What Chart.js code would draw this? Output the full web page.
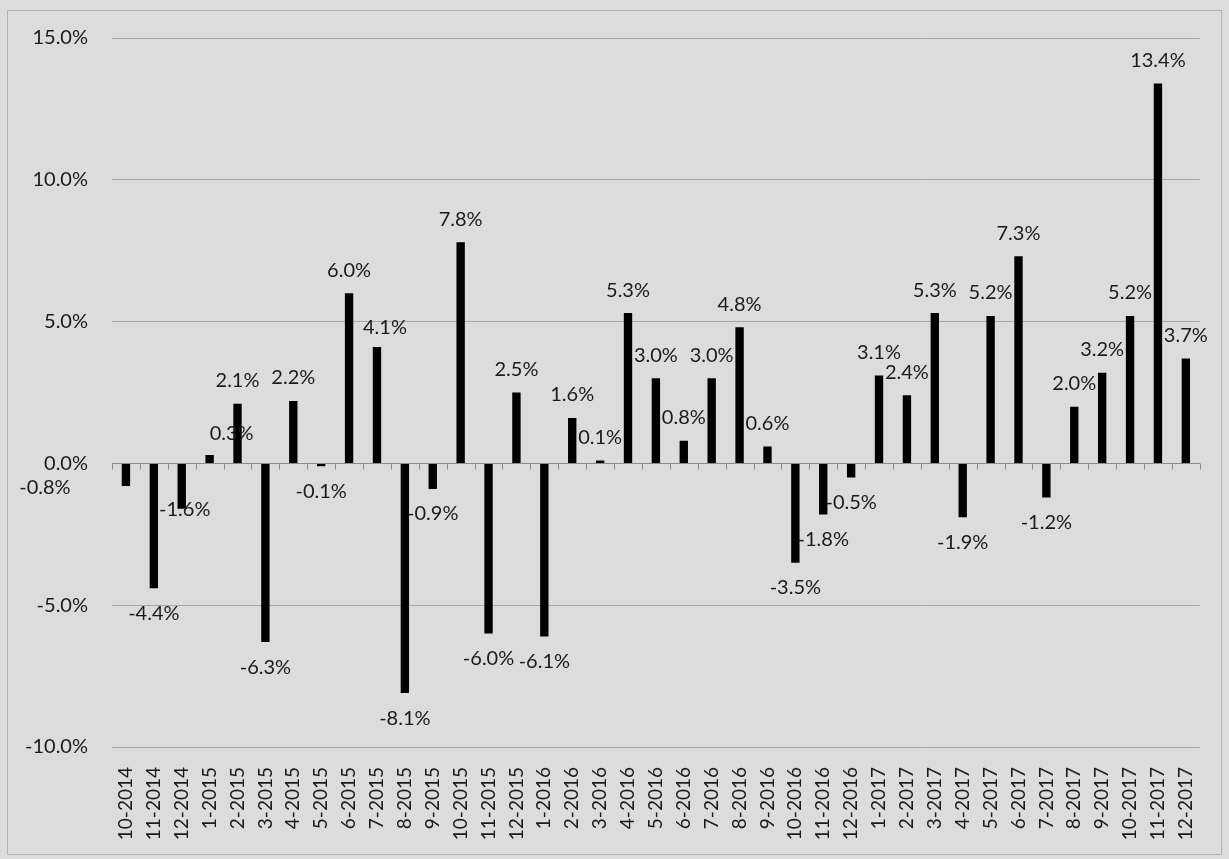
<!DOCTYPE html>
<html>
<head>
<meta charset="utf-8">
<script src="https://cdn.jsdelivr.net/npm/chart.js@4/dist/chart.umd.min.js"></script>
<style>
  html, body { margin: 0; padding: 0; background: #dcdcdc; }
  #wrap { position: relative; width: 1229px; height: 859px; }
</style>
</head>
<body>
<div id="wrap"><canvas id="myChart" width="1229" height="859"></canvas></div>
<script>
var months = ['10-2014', '11-2014', '12-2014',
    '1-2015', '2-2015', '3-2015', '4-2015', '5-2015', '6-2015', '7-2015', '8-2015', '9-2015', '10-2015', '11-2015', '12-2015',
    '1-2016', '2-2016', '3-2016', '4-2016', '5-2016', '6-2016', '7-2016', '8-2016', '9-2016', '10-2016', '11-2016', '12-2016',
    '1-2017', '2-2017', '3-2017', '4-2017', '5-2017', '6-2017', '7-2017', '8-2017', '9-2017', '10-2017', '11-2017', '12-2017'];

// monthly return, percent
var returns = [-0.8, -4.4, -1.6,
    0.3, 2.1, -6.3, 2.2, -0.1, 6.0, 4.1, -8.1, -0.9, 7.8, -6.0, 2.5,
    -6.1, 1.6, 0.1, 5.3, 3.0, 0.8, 3.0, 4.8, 0.6, -3.5, -1.8, -0.5,
    3.1, 2.4, 5.3, -1.9, 5.2, 7.3, -1.2, 2.0, 3.2, 5.2, 13.4, 3.7];

var yTicks = [-10, -5, 0, 5, 10, 15];

// a few labels were nudged by hand so they don't sit on neighbouring bars
var labelNudge = { 0: [-81, -24], 2: [3, -24], 3: [22, 2], 9: [8, 3] };

var FONT = 'Lato, "Liberation Sans", sans-serif';

var frame = {
    id: 'frame',
    beforeDraw: function (chart) {
        var ctx = chart.ctx;
        ctx.save();
        ctx.fillStyle = '#dcdcdc';
        ctx.fillRect(0, 0, chart.width, chart.height);
        ctx.strokeStyle = '#b4b4b4';
        ctx.lineWidth = 1;
        ctx.strokeRect(7.5, 10.5, chart.width - 15, chart.height - 15);
        ctx.restore();
    }
};

// zero line with small tick marks between the months
var zeroAxis = {
    id: 'zeroAxis',
    afterDatasetsDraw: function (chart) {
        var ctx = chart.ctx, x = chart.scales.x, y = chart.scales.y;
        var y0 = Math.round(y.getPixelForValue(0)) + 0.5;
        ctx.save();
        ctx.strokeStyle = '#8c8c8c';
        ctx.lineWidth = 1;
        ctx.beginPath();
        ctx.moveTo(chart.chartArea.left, y0);
        ctx.lineTo(chart.chartArea.right, y0);
        for (var i = 0; i <= months.length; i++) {
            var px = Math.round(x.getPixelForValue(i - 0.5)) + 0.5;
            ctx.moveTo(px, y0);
            ctx.lineTo(px, y0 + 6);
        }
        ctx.stroke();
        ctx.restore();
    }
};

var valueLabels = {
    id: 'valueLabels',
    afterDatasetsDraw: function (chart) {
        var ctx = chart.ctx;
        var meta = chart.getDatasetMeta(0);
        ctx.save();
        ctx.font = '20px ' + FONT;
        ctx.fillStyle = '#1a1a1a';
        ctx.textAlign = 'center';
        ctx.textBaseline = 'middle';
        meta.data.forEach(function (bar, i) {
            var v = returns[i];
            var nudge = labelNudge[i] || [0, 0];
            var ly = v >= 0 ? bar.y - 23 : bar.y + 25;
            ctx.fillText(v.toFixed(1) + '%', bar.x + nudge[0], ly + nudge[1]);
        });
        ctx.restore();
    }
};

new Chart('myChart', {
    type: 'bar',
    data: {
        labels: months,
        datasets: [{
            label: 'Return',
            data: returns,
            backgroundColor: '#000000',
            barPercentage: 0.3,
            categoryPercentage: 1.0
        }]
    },
    options: {
        responsive: false,
        animation: false,
        layout: { padding: { left: 10, right: 28, top: 38, bottom: 12 } },
        plugins: {
            legend: { display: false },
            title: { display: false },
            tooltip: { enabled: false }
        },
        scales: {
            x: {
                grid: { display: false, drawTicks: false },
                border: { display: false },
                ticks: {
                    autoSkip: false,
                    maxRotation: 90,
                    minRotation: 90,
                    padding: 20,
                    color: '#1a1a1a',
                    font: { family: FONT, size: 19 }
                },
                afterFit: function (scale) { scale.height = 100; }
            },
            y: {
                min: -10,
                max: 15,
                afterBuildTicks: function (scale) {
                    scale.ticks = yTicks.map(function (v) { return { value: v }; });
                },
                grid: { color: '#a6a6a6', drawTicks: false },
                border: { display: false },
                ticks: {
                    padding: 24,
                    color: '#1a1a1a',
                    font: { family: FONT, size: 20 },
                    callback: function (v) { return v.toFixed(1) + '%'; }
                },
                afterFit: function (scale) { scale.width = 102; }
            }
        }
    },
    plugins: [frame, zeroAxis, valueLabels]
});
</script>
</body>
</html>
